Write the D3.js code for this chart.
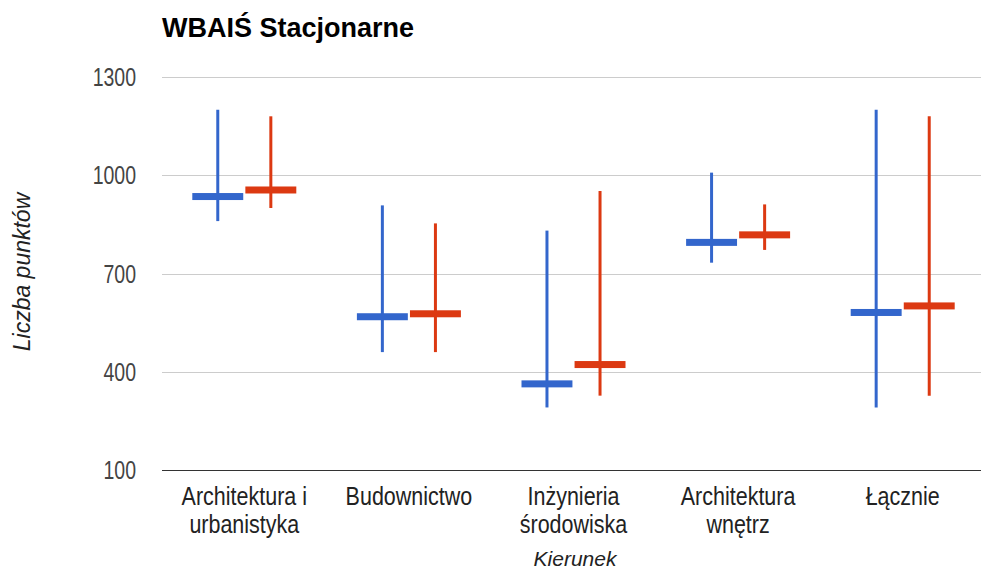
<!DOCTYPE html>
<html><head><meta charset="utf-8">
<script src="https://cdn.jsdelivr.net/npm/d3@7"></script>
<style>body{margin:0;background:#fff}svg{display:block}text{font-family:"Liberation Sans",Arial,sans-serif}</style>
</head><body>
<svg id="c" width="981" height="573"></svg>
<script>
const categories = [["Architektura i","urbanistyka"],["Budownictwo"],["Inżynieria","środowiska"],["Architektura","wnętrz"],["Łącznie"]];
const series = ["A","B"];
const colors = ["#3366cc","#dc3912"];
// [low, mid, high] per category
const seriesA = [[860,935,1200],[460,568,908],[291,363,831],[733,795,1008],[291,581,1200]];
const seriesB = [[900,955,1180],[460,577,853],[327,422,952],[772,818,911],[327,601,1180]];
const yTicks = [100,400,700,1000,1300];

const svg = d3.select("#c");
const x = d3.scaleBand().domain(d3.range(categories.length)).range([162,985]);
const xs = d3.scaleBand().domain([0,1]).range([0,104]).paddingInner(0.04);
const y = d3.scaleLinear().domain([100,1300]).range([470,77]);

// gridlines
svg.append("g").selectAll("line").data(yTicks).join("line")
  .attr("x1",162).attr("x2",981).attr("y1",d=>Math.round(y(d))+0.5).attr("y2",d=>Math.round(y(d))+0.5)
  .attr("stroke",d=>d===100?"#333":"#ccc").attr("stroke-width",1);
// y tick labels (condensed look)
svg.append("g").selectAll("text").data(yTicks).join("text")
  .attr("transform",d=>`translate(136,${y(d)+9}) scale(0.78,1)`).attr("text-anchor","end")
  .attr("font-size",25).attr("fill","#444").text(d=>d);

const data = [seriesA, seriesB];
data.forEach((s,si)=>{
  const g = svg.append("g");
  s.forEach((v,ci)=>{
    const x0 = x(ci) + (x.bandwidth()-104)/2 + xs(si);
    const cx = x0 + xs.bandwidth()/2;
    g.append("line").attr("x1",cx).attr("x2",cx).attr("y1",y(v[2])).attr("y2",y(v[0]))
      .attr("stroke",colors[si]).attr("stroke-width",3);
    g.append("rect").attr("x",x0).attr("width",xs.bandwidth()).attr("y",y(v[1])-3.5).attr("height",7)
      .attr("fill",colors[si]);
  });
});

// x labels
const xl = svg.append("g");
categories.forEach((lines,ci)=>{
  const t = xl.append("text").attr("transform",`translate(${x(ci)+x.bandwidth()/2},505) scale(0.86,1)`)
    .attr("text-anchor","middle").attr("font-size",25).attr("fill","#222");
  lines.forEach((l,li)=>t.append("tspan").attr("x",0).attr("y",li*28).text(l));
});

svg.append("text").attr("x",162).attr("y",37).attr("font-size",27).attr("font-weight","bold").attr("fill","#000").text("WBAIŚ Stacjonarne");
svg.append("text").attr("transform","translate(30,272) rotate(-90)").attr("text-anchor","middle")
  .attr("font-size",23).attr("font-style","italic").attr("fill","#222").text("Liczba punktów");
svg.append("text").attr("x",575).attr("y",566).attr("text-anchor","middle")
  .attr("font-size",21).attr("font-style","italic").attr("fill","#222").text("Kierunek");
</script>
</body></html>
